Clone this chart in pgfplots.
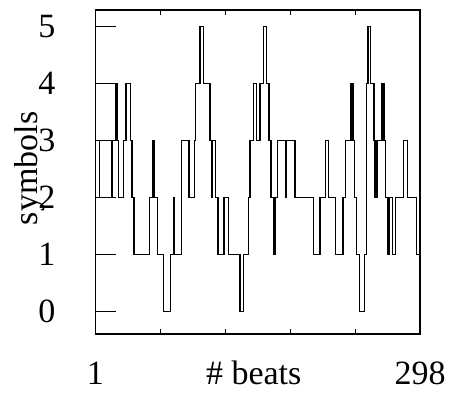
\documentclass[border=0pt]{standalone}
\usepackage{fontspec}
\setmainfont{Liberation Serif}
\usepackage{graphicx}
\usepackage{pgfplots}
\pgfplotsset{compat=1.18}
\newsavebox\lab
\begin{document}
\sbox\lab{\fontsize{34}{34}\selectfont symbols}%
\begin{tikzpicture}
\begin{axis}[
  scale only axis, width=324.5pt, height=324pt,
  xmin=1, xmax=298, ymin=-0.39, ymax=5.29,
  axis line style={line width=1.1pt},
  tick align=inside,
  xtick={1,60.4,119.8,179.2,238.6,298},
  xticklabels={1,,,,,298},
  xtick pos=both, xticklabel pos=bottom,
  ytick={0,1,2,3,4,5}, ytick pos=left,
  xtick style={/pgfplots/major tick length=5pt, line width=0.9pt, black},
  ytick style={/pgfplots/major tick length=20pt, line width=0.9pt, black},
  /pgf/number format/assume math mode=true,
  tick label style={font=\fontsize{34}{34}\selectfont, inner sep=0pt},
  xticklabel style={anchor=base, yshift=-51pt},
  yticklabel style={anchor=east, xshift=-40pt},
  label style={font=\fontsize{34}{34}\selectfont, inner sep=0pt},
  xlabel={\# beats},
  xlabel style={at={([yshift=-51pt,xshift=-4pt]axis description cs:0.5,0)}, anchor=base},
]
\addplot[black, line width=1.2pt, mark=none] coordinates {
(1,4) (20.7,4) (20.7,3) (1,3) (1,2) (4.5,2) (4.5,3) (4.5,2) (16.1,2) (16.1,3)
(19.1,3) (19.1,4) (19.1,3) (22.2,3) (22.2,2) (26.8,2) (26.8,3) (28.9,3) (28.9,4)
(32.9,4) (32.9,3) (34.4,3) (34.4,2) (36.2,2) (36.2,1) (50.6,1) (50.6,2)
(53.4,2) (53.4,3) (53.8,3) (53.8,2) (54.2,2) (54.2,3) (54.5,3) (54.5,2)
(57.7,2) (57.7,1) (63.1,1) (63.1,0) (69.8,0) (69.8,1) (72.6,1) (72.6,2)
(73.2,2) (73.2,1) (79.5,1) (79.5,3) (86.6,3) (86.6,2) (91.6,2) (91.6,3)
(92.7,3) (92.7,4) (96.6,4) (96.6,5) (99.7,5) (99.7,4) (105.8,4) (105.8,3)
(107.6,3) (107.6,2) (108.2,2) (108.2,3) (110.8,3) (110.8,2) (113.1,2) (113.1,1)
(118.6,1) (118.6,2) (122.5,2) (122.5,1) (133.3,1) (133.3,0) (136.6,0) (136.6,1)
(140.8,1) (140.8,2) (142.4,2) (142.4,3) (145.4,3) (145.4,4) (148.5,4) (148.5,3)
(151.5,3) (151.5,4) (154.8,4) (154.8,5) (157.5,5) (157.5,4) (159.8,4) (159.8,3)
(161.6,3) (161.6,2) (163.9,2) (163.9,1) (165.3,1) (165.3,2) (167.6,2) (167.6,3)
(174.7,3) (174.7,2) (176,2) (176,3) (183.6,3) (183.6,2) (200.3,2) (200.3,1)
(206.5,1) (206.5,2) (211.5,2) (211.5,3) (214.2,3) (214.2,2) (220.5,2) (220.5,1)
(227.5,1) (227.5,2) (229.6,2) (229.6,3) (234.6,3) (234.6,4) (235.2,4) (235.2,3)
(235.8,3) (235.8,4) (236.7,4) (236.7,3) (238.2,3) (238.2,2) (239.9,2) (239.9,1)
(242.8,1) (242.8,0) (247.4,0) (247.4,1) (248.8,1) (248.8,4) (250.4,4) (250.4,5)
(252.9,5) (252.9,4) (255.9,4) (255.9,3)
(256.4,3) (256.4,2) (256.8,2) (256.8,3) (257.2,3) (257.2,2) (257.6,2) (257.6,3)
(258,3) (258,2) (258.4,2) (258.4,3) (258.8,3) (258.8,2) (259.2,2) (259.2,3)
(262.6,3) (262.6,4) (263.2,4) (263.2,3) (263.7,3) (263.7,4) (264.2,4) (264.2,3)
(264.7,3) (264.7,4) (265.1,4) (265.1,3) (266.6,3) (266.6,2) (268.2,2) (268.2,1)
(269.7,1) (269.7,2) (272.6,2) (272.6,1) (275.7,1) (275.7,2) (282.9,2) (282.9,3)
(286.5,3) (286.5,2) (294.9,2) (294.9,1) (298,1)
};
\end{axis}
\node[anchor=east, inner sep=0pt] at (-50pt,162pt) {\rlap{\special{pdf:bxobj @lab width \the\wd\lab\space height \the\ht\lab\space depth \the\dp\lab}\usebox\lab\special{pdf:exobj}}\rotatebox{90}{\rlap{\special{pdf:uxobj @lab}}\phantom{\usebox\lab}}};
\pgfresetboundingbox
\path[use as bounding box] (-95.5pt,-61pt) rectangle (357.5pt,334pt);
\end{tikzpicture}
\end{document}
